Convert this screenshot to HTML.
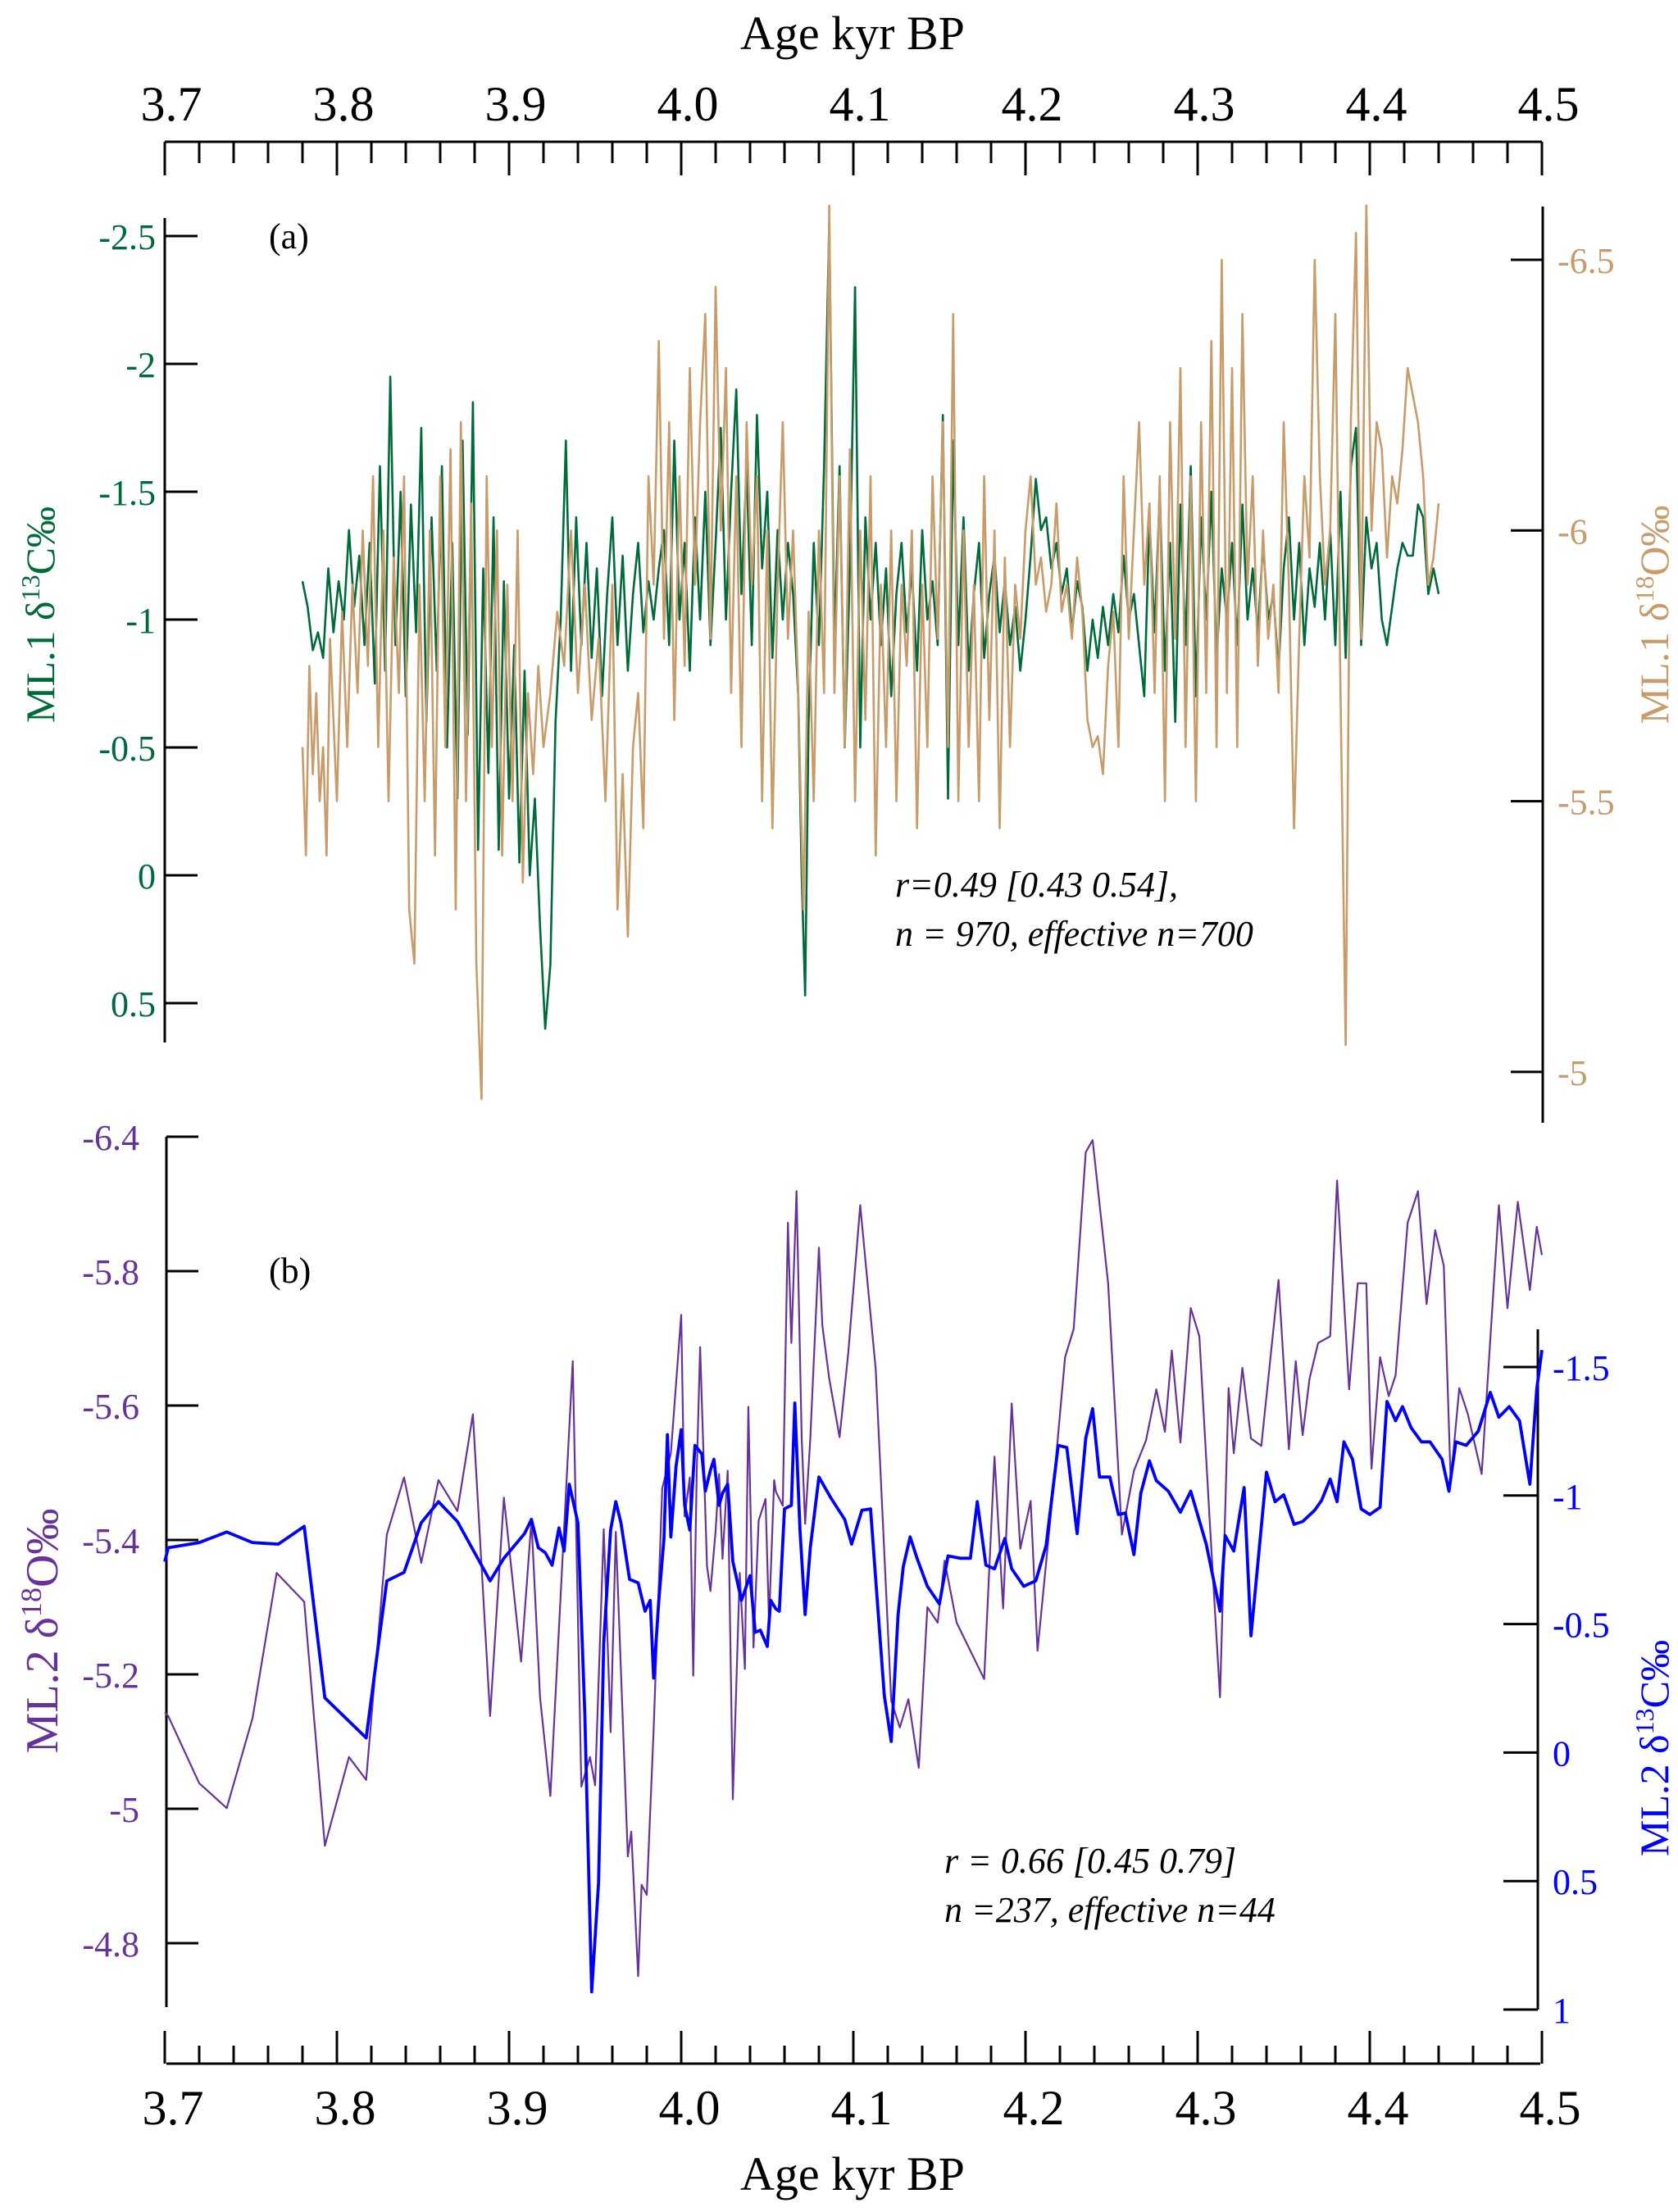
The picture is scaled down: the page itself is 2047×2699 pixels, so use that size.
<!DOCTYPE html>
<html><head><meta charset="utf-8"><style>
html,body{margin:0;padding:0;background:#fff}
svg{display:block}
svg text{font-family:"Liberation Serif","DejaVu Serif",serif}
</style></head><body>
<svg id="chart" width="2047" height="2699" viewBox="0 0 2047 2699" xmlns="http://www.w3.org/2000/svg" font-family="Liberation Serif, serif">
<g id="axes"></g>
<g id="series"></g>
<text x="1040" y="60" font-size="58" text-anchor="middle" font-family="Liberation Serif, serif">Age kyr BP</text>
<text x="1040" y="2672" font-size="58" text-anchor="middle" font-family="Liberation Serif, serif">Age kyr BP</text>
<text x="328" y="303" font-size="44" font-family="Liberation Serif, serif">(a)</text>
<text x="328" y="1565" font-size="44" font-family="Liberation Serif, serif">(b)</text>
<text x="1092" y="1094" font-size="44" font-style="italic" font-family="Liberation Serif, serif">r=0.49 [0.43 0.54],</text>
<text x="1092" y="1154" font-size="44" font-style="italic" font-family="Liberation Serif, serif">n = 970, effective n=700</text>
<text x="1152" y="2285" font-size="44" font-style="italic" font-family="Liberation Serif, serif">r = 0.66 [0.45 0.79]</text>
<text x="1152" y="2345" font-size="44" font-style="italic" font-family="Liberation Serif, serif">n =237, effective n=44</text>
<text transform="translate(66,750) rotate(-90)" font-size="50" fill="#006b3a" text-anchor="middle" font-family="Liberation Serif, serif">ML.1 δ<tspan font-size="32" dy="-18">13</tspan><tspan dy="18">C‰</tspan></text>
<text transform="translate(2035,750) rotate(-90)" font-size="50" fill="#c89b6a" text-anchor="middle" font-family="Liberation Serif, serif">ML.1 δ<tspan font-size="32" dy="-18">18</tspan><tspan dy="18">O‰</tspan></text>
<text transform="translate(70,1990) rotate(-90)" font-size="56" fill="#663399" text-anchor="middle" font-family="Liberation Serif, serif">ML.2 δ<tspan font-size="36" dy="-20">18</tspan><tspan dy="20">O‰</tspan></text>
<text transform="translate(2035,2133) rotate(-90)" font-size="50" fill="#0000ff" text-anchor="middle" font-family="Liberation Serif, serif">ML.2 δ<tspan font-size="32" dy="-18">13</tspan><tspan dy="18">C‰</tspan></text>
</svg>
<script>
const xTicks = [3.7,3.8,3.9,4.0,4.1,4.2,4.3,4.4,4.5];
const xTickLabels = ["3.7","3.8","3.9","4.0","4.1","4.2","4.3","4.4","4.5"];
const ml1d13cTicks = [-2.5,-2,-1.5,-1,-0.5,0,0.5];
const ml1d13cTickLabels = ["-2.5","-2","-1.5","-1","-0.5","0","0.5"];
const ml1d18oTicks = [-6.5,-6,-5.5,-5];
const ml1d18oTickLabels = ["-6.5","-6","-5.5","-5"];
const ml2d18oTicks = [-6.0,-5.8,-5.6,-5.4,-5.2,-5.0,-4.8];
const ml2d18oTickLabels = ["-6.4","-5.8","-5.6","-5.4","-5.2","-5","-4.8"];
const ml2d13cTicks = [-1.5,-1,-0.5,0,0.5,1];
const ml2d13cTickLabels = ["-1.5","-1","-0.5","0","0.5","1"];

const ml1d13c = [[3.780,-1.15],[3.783,-1.05],[3.786,-0.88],[3.789,-0.95],[3.792,-0.85],[3.795,-1.2],[3.798,-0.95],[3.801,-1.15],[3.804,-1.0],[3.807,-1.35],[3.810,-1.05],[3.813,-1.25],[3.816,-0.9],[3.819,-1.3],[3.822,-0.75],[3.825,-1.6],[3.828,-0.8],[3.831,-1.95],[3.834,-0.9],[3.837,-1.5],[3.840,-0.7],[3.843,-1.45],[3.846,-0.95],[3.849,-1.75],[3.852,-0.6],[3.855,-1.4],[3.858,-0.8],[3.861,-1.6],[3.864,-0.5],[3.867,-1.3],[3.870,-0.3],[3.873,-1.7],[3.876,-0.55],[3.879,-1.85],[3.882,-0.1],[3.885,-1.2],[3.888,-0.4],[3.891,-1.4],[3.894,-0.1],[3.897,-1.15],[3.900,-0.3],[3.903,-0.9],[3.906,-0.05],[3.909,-0.8],[3.912,0.0],[3.915,-0.3],[3.918,0.2],[3.921,0.6],[3.924,0.35],[3.927,-0.6],[3.930,-1.0],[3.933,-1.7],[3.936,-0.8],[3.939,-1.4],[3.942,-0.9],[3.945,-1.3],[3.948,-0.85],[3.951,-1.2],[3.954,-0.7],[3.957,-1.1],[3.960,-1.4],[3.963,-0.9],[3.966,-1.25],[3.969,-0.8],[3.972,-1.1],[3.975,-1.3],[3.978,-0.95],[3.981,-1.15],[3.984,-1.0],[3.987,-1.2],[3.990,-1.35],[3.993,-0.9],[3.996,-1.7],[3.999,-1.0],[4.002,-1.3],[4.005,-0.8],[4.008,-1.4],[4.011,-1.0],[4.014,-1.5],[4.017,-0.9],[4.020,-1.3],[4.023,-1.75],[4.026,-1.0],[4.029,-1.5],[4.032,-1.9],[4.035,-1.1],[4.038,-1.6],[4.041,-0.9],[4.044,-1.8],[4.047,-1.2],[4.050,-1.5],[4.053,-0.85],[4.056,-1.35],[4.059,-1.0],[4.062,-1.3],[4.065,-1.1],[4.068,-0.7],[4.070,0.0],[4.072,0.47],[4.074,-0.6],[4.077,-1.3],[4.080,-0.9],[4.083,-1.6],[4.086,-2.55],[4.089,-0.9],[4.092,-1.6],[4.095,-0.5],[4.098,-1.2],[4.101,-2.3],[4.104,-0.5],[4.107,-1.4],[4.110,-1.0],[4.113,-1.3],[4.116,-0.9],[4.119,-1.2],[4.122,-0.7],[4.125,-1.1],[4.128,-1.3],[4.131,-0.95],[4.134,-1.2],[4.137,-0.8],[4.140,-1.35],[4.143,-1.0],[4.146,-1.15],[4.149,-0.9],[4.152,-1.8],[4.155,-0.3],[4.158,-1.7],[4.161,-0.9],[4.164,-1.4],[4.167,-0.8],[4.170,-1.1],[4.173,-1.3],[4.176,-0.85],[4.179,-1.1],[4.182,-1.25],[4.185,-0.95],[4.188,-1.15],[4.191,-0.9],[4.194,-1.05],[4.197,-0.8],[4.200,-1.0],[4.203,-1.25],[4.206,-1.55],[4.209,-1.35],[4.212,-1.4],[4.215,-1.2],[4.218,-1.3],[4.221,-1.1],[4.224,-1.2],[4.227,-0.95],[4.230,-1.15],[4.233,-1.05],[4.236,-0.8],[4.239,-1.0],[4.242,-0.85],[4.245,-1.05],[4.248,-0.9],[4.251,-1.1],[4.254,-0.95],[4.257,-1.25],[4.260,-1.0],[4.263,-1.1],[4.266,-0.9],[4.269,-0.7],[4.272,-1.4],[4.275,-0.95],[4.278,-1.5],[4.281,-0.8],[4.284,-1.3],[4.287,-0.6],[4.290,-1.45],[4.293,-0.9],[4.296,-1.6],[4.299,-0.7],[4.302,-1.4],[4.305,-1.0],[4.308,-1.5],[4.311,-0.85],[4.314,-1.2],[4.317,-1.0],[4.320,-1.3],[4.323,-0.9],[4.326,-1.45],[4.329,-1.0],[4.332,-1.2],[4.335,-0.95],[4.338,-1.3],[4.341,-1.0],[4.344,-1.1],[4.347,-0.8],[4.350,-1.2],[4.353,-1.4],[4.356,-1.0],[4.359,-1.3],[4.362,-0.9],[4.365,-1.2],[4.368,-1.05],[4.371,-1.3],[4.374,-1.0],[4.377,-1.35],[4.380,-0.9],[4.383,-1.5],[4.386,-0.85],[4.389,-1.6],[4.392,-1.75],[4.395,-0.9],[4.398,-1.4],[4.401,-1.2],[4.404,-1.3],[4.407,-1.0],[4.410,-0.9],[4.413,-1.05],[4.416,-1.2],[4.419,-1.3],[4.422,-1.25],[4.425,-1.25],[4.428,-1.45],[4.431,-1.4],[4.434,-1.1],[4.437,-1.2],[4.440,-1.1]];

const ml1d18o = [[3.780,-5.6],[3.782,-5.4],[3.784,-5.75],[3.786,-5.55],[3.788,-5.7],[3.790,-5.5],[3.792,-5.6],[3.794,-5.4],[3.796,-5.8],[3.798,-5.65],[3.800,-5.5],[3.803,-5.85],[3.806,-5.6],[3.809,-5.9],[3.812,-5.7],[3.815,-6.0],[3.818,-5.75],[3.821,-6.1],[3.824,-5.6],[3.827,-6.0],[3.830,-5.5],[3.833,-5.95],[3.836,-5.7],[3.839,-6.1],[3.842,-5.3],[3.845,-5.2],[3.848,-5.9],[3.851,-5.5],[3.854,-6.0],[3.857,-5.4],[3.860,-6.1],[3.863,-5.6],[3.866,-6.15],[3.869,-5.3],[3.872,-6.2],[3.875,-5.5],[3.878,-6.05],[3.881,-5.2],[3.884,-4.95],[3.887,-6.1],[3.890,-5.6],[3.893,-6.0],[3.896,-5.4],[3.899,-5.9],[3.902,-5.5],[3.905,-6.0],[3.908,-5.35],[3.911,-5.7],[3.914,-5.55],[3.917,-5.75],[3.920,-5.6],[3.924,-5.7],[3.928,-5.85],[3.932,-5.75],[3.936,-6.0],[3.940,-5.7],[3.944,-5.9],[3.948,-5.65],[3.952,-5.8],[3.956,-5.5],[3.960,-5.9],[3.963,-5.3],[3.966,-5.55],[3.969,-5.25],[3.972,-5.6],[3.975,-5.7],[3.978,-5.45],[3.981,-6.1],[3.984,-5.9],[3.987,-6.35],[3.990,-5.8],[3.993,-6.2],[3.996,-5.65],[3.999,-6.1],[4.002,-5.75],[4.005,-6.3],[4.008,-5.9],[4.011,-6.2],[4.014,-6.4],[4.017,-5.8],[4.020,-6.45],[4.023,-6.0],[4.026,-6.3],[4.029,-5.7],[4.032,-6.1],[4.035,-5.6],[4.038,-6.2],[4.041,-5.9],[4.044,-6.1],[4.047,-5.5],[4.050,-6.0],[4.053,-5.45],[4.056,-5.9],[4.059,-6.2],[4.062,-5.8],[4.065,-6.0],[4.068,-5.7],[4.071,-5.3],[4.074,-5.85],[4.077,-5.5],[4.080,-6.0],[4.083,-5.7],[4.086,-6.6],[4.089,-5.7],[4.092,-6.1],[4.095,-5.6],[4.098,-6.15],[4.101,-5.5],[4.104,-6.0],[4.107,-5.65],[4.110,-6.1],[4.113,-5.4],[4.116,-5.9],[4.119,-5.6],[4.122,-6.0],[4.125,-5.5],[4.128,-5.9],[4.131,-5.75],[4.134,-6.0],[4.137,-5.45],[4.140,-5.9],[4.143,-5.6],[4.146,-6.1],[4.149,-5.8],[4.152,-6.2],[4.155,-5.6],[4.158,-6.4],[4.161,-5.5],[4.164,-6.0],[4.167,-5.6],[4.170,-5.9],[4.173,-5.5],[4.176,-6.1],[4.179,-5.65],[4.182,-6.0],[4.185,-5.45],[4.188,-5.95],[4.191,-5.6],[4.194,-5.9],[4.197,-5.8],[4.200,-6.0],[4.203,-6.1],[4.206,-5.9],[4.209,-5.95],[4.212,-5.85],[4.215,-5.9],[4.218,-6.05],[4.221,-5.85],[4.224,-5.9],[4.227,-5.8],[4.230,-5.95],[4.233,-5.85],[4.236,-5.65],[4.239,-5.6],[4.242,-5.62],[4.245,-5.55],[4.248,-5.75],[4.251,-5.85],[4.254,-5.6],[4.257,-6.1],[4.260,-5.8],[4.263,-6.0],[4.266,-6.2],[4.269,-5.9],[4.272,-6.05],[4.275,-5.7],[4.278,-6.1],[4.281,-5.5],[4.284,-6.2],[4.287,-5.8],[4.290,-6.3],[4.293,-5.6],[4.296,-6.1],[4.299,-5.5],[4.302,-6.2],[4.305,-5.7],[4.308,-6.35],[4.311,-5.6],[4.314,-6.5],[4.317,-5.7],[4.320,-6.3],[4.323,-5.6],[4.326,-6.4],[4.329,-5.9],[4.332,-6.1],[4.335,-5.75],[4.338,-6.0],[4.341,-5.8],[4.344,-5.9],[4.347,-5.7],[4.350,-6.2],[4.353,-5.9],[4.356,-5.45],[4.359,-5.8],[4.362,-6.1],[4.365,-5.95],[4.368,-6.5],[4.371,-6.1],[4.374,-5.9],[4.377,-6.0],[4.380,-6.4],[4.383,-5.7],[4.386,-5.05],[4.389,-6.2],[4.392,-6.55],[4.395,-5.8],[4.398,-6.6],[4.401,-6.0],[4.404,-6.2],[4.407,-6.15],[4.410,-5.95],[4.413,-6.1],[4.416,-6.05],[4.419,-6.15],[4.422,-6.3],[4.425,-6.25],[4.428,-6.2],[4.431,-6.1],[4.434,-5.9],[4.437,-5.95],[4.440,-6.05]];

const ml2d18o = [[3.700,-5.143],[3.702,-5.138],[3.720,-5.038],[3.736,-5.001],[3.751,-5.135],[3.765,-5.351],[3.781,-5.308],[3.793,-4.945],[3.807,-5.077],[3.817,-5.043],[3.829,-5.408],[3.839,-5.493],[3.849,-5.366],[3.859,-5.489],[3.870,-5.443],[3.879,-5.587],[3.889,-5.138],[3.897,-5.463],[3.907,-5.219],[3.913,-5.429],[3.918,-5.166],[3.924,-5.019],[3.930,-5.319],[3.937,-5.666],[3.942,-5.033],[3.947,-5.077],[3.950,-5.035],[3.955,-5.416],[3.959,-5.114],[3.962,-5.412],[3.969,-4.929],[3.971,-4.966],[3.975,-4.751],[3.977,-4.887],[3.980,-4.872],[3.984,-5.119],[3.989,-5.477],[3.994,-5.529],[4.000,-5.735],[4.002,-5.435],[4.005,-5.493],[4.007,-5.198],[4.009,-5.498],[4.011,-5.687],[4.015,-5.361],[4.017,-5.324],[4.020,-5.414],[4.022,-5.498],[4.024,-5.372],[4.027,-5.503],[4.030,-5.014],[4.034,-5.351],[4.037,-5.208],[4.039,-5.598],[4.042,-5.240],[4.045,-5.429],[4.049,-5.461],[4.051,-5.279],[4.054,-5.489],[4.055,-5.472],[4.059,-5.451],[4.062,-5.872],[4.064,-5.693],[4.067,-5.919],[4.070,-5.551],[4.072,-5.424],[4.075,-5.551],[4.080,-5.835],[4.082,-5.719],[4.086,-5.640],[4.092,-5.553],[4.097,-5.677],[4.104,-5.898],[4.113,-5.654],[4.122,-5.161],[4.127,-5.121],[4.132,-5.163],[4.138,-5.061],[4.143,-5.300],[4.149,-5.277],[4.153,-5.369],[4.160,-5.277],[4.176,-5.193],[4.182,-5.524],[4.187,-5.298],[4.192,-5.603],[4.197,-5.387],[4.203,-5.458],[4.207,-5.235],[4.216,-5.472],[4.223,-5.672],[4.228,-5.714],[4.235,-5.977],[4.239,-5.995],[4.248,-5.782],[4.256,-5.408],[4.263,-5.503],[4.270,-5.548],[4.276,-5.624],[4.281,-5.561],[4.285,-5.682],[4.290,-5.545],[4.296,-5.745],[4.301,-5.703],[4.307,-5.429],[4.313,-5.166],[4.318,-5.626],[4.321,-5.529],[4.326,-5.656],[4.331,-5.551],[4.337,-5.540],[4.347,-5.787],[4.353,-5.535],[4.357,-5.666],[4.361,-5.556],[4.365,-5.640],[4.370,-5.693],[4.377,-5.703],[4.381,-5.935],[4.388,-5.624],[4.393,-5.782],[4.398,-5.782],[4.401,-5.506],[4.406,-5.672],[4.411,-5.614],[4.415,-5.645],[4.422,-5.872],[4.428,-5.919],[4.433,-5.751],[4.438,-5.861],[4.443,-5.808],[4.447,-5.487],[4.452,-5.626],[4.457,-5.587],[4.465,-5.498],[4.475,-5.898],[4.480,-5.745],[4.486,-5.903],[4.493,-5.772],[4.497,-5.866],[4.500,-5.824]];

const ml2d13c = [[3.700,-0.743],[3.702,-0.797],[3.720,-0.817],[3.736,-0.858],[3.751,-0.817],[3.766,-0.811],[3.781,-0.880],[3.793,-0.213],[3.817,-0.057],[3.829,-0.668],[3.839,-0.701],[3.849,-0.894],[3.859,-0.976],[3.870,-0.899],[3.889,-0.668],[3.897,-0.756],[3.909,-0.852],[3.913,-0.907],[3.917,-0.797],[3.921,-0.778],[3.925,-0.729],[3.929,-0.874],[3.932,-0.784],[3.935,-1.044],[3.940,-0.894],[3.944,-0.153],[3.948,0.931],[3.952,0.506],[3.955,-0.427],[3.959,-0.866],[3.962,-0.976],[3.965,-0.894],[3.970,-0.674],[3.975,-0.660],[3.979,-0.550],[3.982,-0.592],[3.984,-0.290],[3.987,-0.592],[3.990,-0.833],[3.992,-1.237],[3.994,-0.839],[3.997,-1.113],[4.000,-1.256],[4.002,-0.962],[4.005,-0.866],[4.008,-1.195],[4.012,-1.162],[4.014,-1.017],[4.017,-1.099],[4.019,-1.141],[4.022,-0.962],[4.024,-1.009],[4.027,-1.044],[4.030,-0.743],[4.035,-0.592],[4.040,-0.688],[4.043,-0.468],[4.046,-0.476],[4.050,-0.413],[4.052,-0.592],[4.055,-0.559],[4.057,-0.550],[4.060,-0.948],[4.064,-0.962],[4.066,-1.360],[4.069,-0.866],[4.072,-0.537],[4.075,-0.797],[4.080,-1.072],[4.087,-0.990],[4.095,-0.907],[4.099,-0.811],[4.105,-0.943],[4.110,-0.948],[4.113,-0.674],[4.118,-0.221],[4.122,-0.043],[4.126,-0.537],[4.129,-0.723],[4.133,-0.839],[4.137,-0.756],[4.143,-0.647],[4.150,-0.578],[4.155,-0.765],[4.162,-0.756],[4.168,-0.756],[4.172,-0.976],[4.177,-0.729],[4.182,-0.715],[4.188,-0.833],[4.192,-0.715],[4.199,-0.647],[4.206,-0.668],[4.212,-0.806],[4.219,-1.195],[4.224,-1.187],[4.230,-0.852],[4.235,-1.223],[4.239,-1.338],[4.243,-1.072],[4.249,-1.072],[4.254,-0.926],[4.258,-0.932],[4.263,-0.770],[4.267,-1.009],[4.272,-1.135],[4.276,-1.058],[4.283,-1.017],[4.290,-0.935],[4.296,-1.017],[4.305,-0.811],[4.313,-0.550],[4.316,-0.844],[4.321,-0.784],[4.327,-1.031],[4.331,-0.454],[4.340,-1.091],[4.345,-0.976],[4.350,-1.003],[4.356,-0.888],[4.361,-0.899],[4.368,-0.943],[4.372,-0.981],[4.377,-1.064],[4.381,-0.976],[4.385,-1.209],[4.390,-1.141],[4.395,-0.948],[4.400,-0.926],[4.406,-0.954],[4.410,-1.366],[4.415,-1.291],[4.419,-1.346],[4.424,-1.264],[4.430,-1.209],[4.435,-1.209],[4.442,-1.141],[4.446,-1.017],[4.450,-1.209],[4.456,-1.195],[4.463,-1.250],[4.470,-1.401],[4.475,-1.305],[4.481,-1.346],[4.487,-1.291],[4.493,-1.044],[4.497,-1.415],[4.500,-1.566]];

const NS = "http://www.w3.org/2000/svg";
const xScale = a => 201 + (a - 3.7) * 2100;
const yGreen = v => 288 + (v + 2.5) * 312;
const yTan = v => 317 + (v + 6.5) * 660.6;
const yPurple = v => 1387 + (v + 6.0) * 820;
const yBlue = v => 1668 + (v + 1.5) * 313.6;

const axes = document.getElementById('axes');
const series = document.getElementById('series');
function mk(tag, attrs, parent) {
  const el = document.createElementNS(NS, tag);
  for (const k in attrs) el.setAttribute(k, attrs[k]);
  parent.appendChild(el);
  return el;
}
function line(x1,y1,x2,y2,name){
  const l = mk('line',{x1:x1,y1:y1,x2:x2,y2:y2,stroke:'#000','stroke-width':3},axes);
  
  
  return l;
}
function label(x,y,txt,anchor,size,fill,name){
  const t = mk('text',{x:x,y:y,'text-anchor':anchor,'font-size':size,fill:fill,'font-family':'Liberation Serif, serif'},axes);
  t.textContent = txt;
  
  
}

// top x axis
line(201,173,1881,173,'top-x-axis-line');
for (let i = 0; i <= 40; i++) {
  const a = 3.7 + i * 0.02;
  const major = i % 5 === 0;
  line(xScale(a),173,xScale(a),major?214:199, major?'top-x-major-tick':'top-x-minor-tick');
}
xTicks.forEach((t,i)=>label(xScale(t)+8,147,xTickLabels[i],'middle',60,'#000','top-x-tick-label'));

// bottom x axis
line(203,2518,1879,2518,'bottom-x-axis-line');
for (let i = 0; i <= 40; i++) {
  const a = 3.7 + i * 0.02;
  const major = i % 5 === 0;
  line(xScale(a),2518,xScale(a),major?2478:2496, major?'bottom-x-major-tick':'bottom-x-minor-tick');
}
xTicks.forEach((t,i)=>label(xScale(t)+10,2592,xTickLabels[i],'middle',60,'#000','bottom-x-tick-label'));

// panel a left axis
line(201,266,201,1272,'ml1-d13c-axis-line');
ml1d13cTicks.forEach((t,i)=>{ line(201,yGreen(t),241,yGreen(t),'ml1-d13c-tick'); label(190,yGreen(t)+16,ml1d13cTickLabels[i],'end',44,'#006b3a','ml1-d13c-tick-label'); });
// panel a right axis
line(1882,252,1882,1370,'ml1-d18o-axis-line');
ml1d18oTicks.forEach((t,i)=>{ line(1843,yTan(t),1882,yTan(t),'ml1-d18o-tick'); label(1900,yTan(t)+16,ml1d18oTickLabels[i],'start',44,'#c89b6a','ml1-d18o-tick-label'); });
// panel b left axis
line(203,1387,203,2449,'ml2-d18o-axis-line');
ml2d18oTicks.forEach((t,i)=>{ line(203,yPurple(t),242,yPurple(t),'ml2-d18o-tick'); label(170,yPurple(t)+16,ml2d18oTickLabels[i],'end',44,'#663399','ml2-d18o-tick-label'); });
// panel b right axis
line(1876,1622,1876,2452,'ml2-d13c-axis-line');
ml2d13cTicks.forEach((t,i)=>{ line(1834,yBlue(t),1876,yBlue(t),'ml2-d13c-tick'); label(1894,yBlue(t)+16,ml2d13cTickLabels[i],'start',44,'#0000ff','ml2-d13c-tick-label'); });

function drawSeries(data, yf, color, width, name){
  const d = data.map((p,i)=>(i?'L':'M')+xScale(p[0]).toFixed(1)+' '+yf(p[1]).toFixed(1)).join(' ');
  const path = mk('path',{d:d,fill:'none',stroke:color,'stroke-width':width,'stroke-linejoin':'round'},series);
  
  
}
drawSeries(ml1d13c, yGreen, '#006b3a', 2.6, 'ml1-d13c-line');
drawSeries(ml1d18o, yTan, '#c89b6a', 2.6, 'ml1-d18o-line');
drawSeries(ml2d18o, yPurple, '#663399', 2.2, 'ml2-d18o-line');
drawSeries(ml2d13c, yBlue, '#0000ff', 3.8, 'ml2-d13c-line');
</script>
</body></html>
